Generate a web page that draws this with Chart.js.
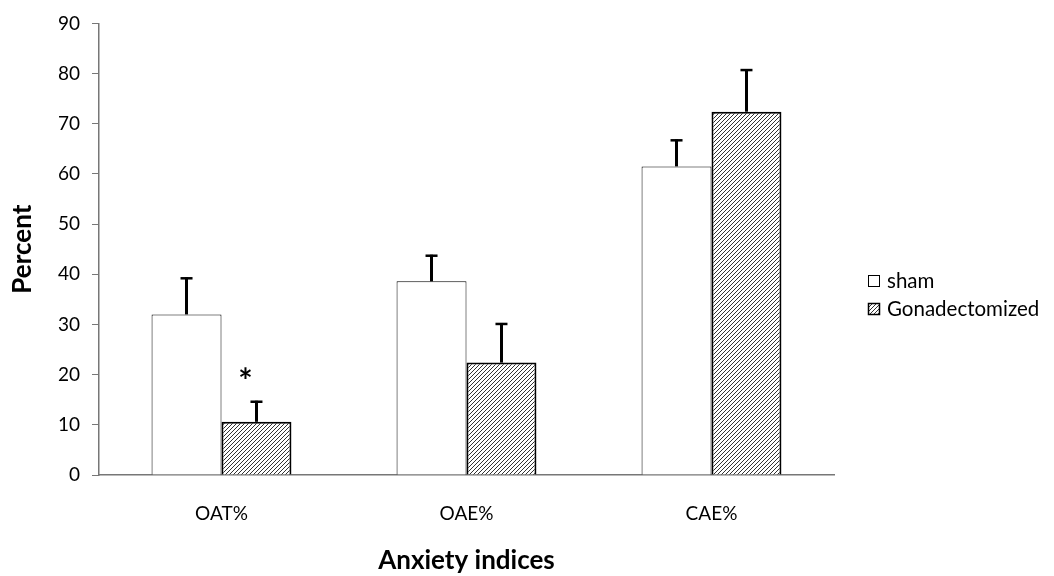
<!DOCTYPE html>
<html>
<head>
<meta charset="utf-8">
<script src="https://cdn.jsdelivr.net/npm/chart.js@4.4.1/dist/chart.umd.min.js"></script>
<style>
  html, body { margin: 0; background: #fff; }
  #wrap { width: 1054px; height: 576px; }
</style>
</head>
<body>
<div id="wrap"><canvas id="chart"></canvas></div>
<script>
const categories  = ['OAT%', 'OAE%', 'CAE%'];
const seriesNames = ['sham', 'Gonadectomized'];
const shamMeans   = [32.0, 38.6, 61.5];
const shamErrors  = [7.4, 5.3, 5.4];
const gonadMeans  = [10.6, 22.4, 72.4];
const gonadErrors = [4.2, 7.9, 8.5];
const gonadStars  = [true, false, false];
const yTicks      = [0, 10, 20, 30, 40, 50, 60, 70, 80, 90];

const FONT = 'Lato';

// diagonal hatch for the gonadectomized bars
function hatch() {
    const s = 4;
    const c = document.createElement('canvas');
    c.width = s; c.height = s;
    const g = c.getContext('2d');
    g.fillStyle = '#fff';
    g.fillRect(0, 0, s, s);
    g.strokeStyle = '#333';
    g.lineWidth = 1;
    g.beginPath();
    g.moveTo(0, s); g.lineTo(s, 0);
    g.moveTo(-1, 1); g.lineTo(1, -1);
    g.moveTo(s - 1, s + 1); g.lineTo(s + 1, s - 1);
    g.stroke();
    return g.createPattern(c, 'repeat');
}
const hatchPattern = hatch();

const errorBars = {
    id: 'errorBars',
    afterDatasetsDraw(chart) {
        const ctx = chart.ctx;
        const y = chart.scales.y;
        ctx.save();
        ctx.strokeStyle = '#000';
        chart.data.datasets.forEach((ds, di) => {
            const meta = chart.getDatasetMeta(di);
            meta.data.forEach((bar, i) => {
                const top = y.getPixelForValue(ds.data[i] + ds.errors[i]);
                ctx.lineWidth = 3;
                ctx.beginPath();
                ctx.moveTo(bar.x, bar.y);
                ctx.lineTo(bar.x, top);
                ctx.stroke();
                ctx.lineWidth = 2.5;
                ctx.beginPath();
                ctx.moveTo(bar.x - 6, top + 1);
                ctx.lineTo(bar.x + 6, top + 1);
                ctx.stroke();
                if (ds.stars && ds.stars[i]) {
                    ctx.fillStyle = '#000';
                    ctx.font = 'bold 34px ' + FONT;
                    ctx.textAlign = 'center';
                    ctx.textBaseline = 'alphabetic';
                    ctx.fillText('*', bar.x - 11, top - 8);
                }
            });
        });
        ctx.restore();
    }
};

const sideLegend = {
    id: 'sideLegend',
    afterDraw(chart) {
        const ctx = chart.ctx;
        const rows = [
            { fill: '#fff', border: 1, y: 281 },
            { fill: hatchPattern, border: 1.5, y: 309 }
        ];
        ctx.save();
        ctx.font = '20.5px ' + FONT;
        ctx.textBaseline = 'middle';
        rows.forEach((r, i) => {
            ctx.fillStyle = r.fill;
            ctx.fillRect(868, r.y - 6, 12, 12);
            ctx.strokeStyle = '#000';
            ctx.lineWidth = r.border;
            ctx.strokeRect(868.5, r.y - 5.5, 11, 11);
            ctx.fillStyle = '#000';
            ctx.fillText(seriesNames[i], 887, r.y);
        });
        ctx.restore();
    }
};

new Chart(document.getElementById('chart'), {
    type: 'bar',
    data: {
        labels: categories,
        datasets: [
            {
                label: seriesNames[0],
                data: shamMeans,
                errors: shamErrors,
                backgroundColor: '#fff',
                borderColor: '#000',
                borderWidth: 1,
            },
            {
                label: seriesNames[1],
                data: gonadMeans,
                errors: gonadErrors,
                stars: gonadStars,
                backgroundColor: hatchPattern,
                borderColor: '#000',
                borderWidth: 2,
            }
        ]
    },
    plugins: [errorBars, sideLegend],
    options: {
        responsive: true,
        maintainAspectRatio: false,
        animation: false,
        layout: { padding: { top: 20, right: 220, left: 0, bottom: 0 } },
        datasets: { bar: { categoryPercentage: 0.571, barPercentage: 1.0 } },
        plugins: {
            legend: { display: false },
            tooltip: { enabled: false },
        },
        scales: {
            x: {
                afterFit: s => { s.height = 101; },
                grid: { display: false, drawTicks: false },
                border: { color: '#777', width: 1.5 },
                ticks: { color: '#000', padding: 27, font: { family: FONT, size: 19 } },
                title: {
                    display: true,
                    text: 'Anxiety indices',
                    color: '#000',
                    padding: { top: 0, bottom: 0 },
                    font: { family: FONT, size: 26, weight: 'bold' },
                },
            },
            y: {
                min: 0,
                max: 90,
                afterFit: s => { s.width = 99; },
                afterBuildTicks: s => { s.ticks = yTicks.map(v => ({ value: v })); },
                grid: { drawOnChartArea: false, drawTicks: true, tickLength: 7, tickColor: '#777' },
                border: { color: '#777', width: 1.5 },
                ticks: { color: '#000', padding: 12, font: { family: FONT, size: 19 } },
                title: {
                    display: true,
                    text: 'Percent',
                    color: '#000',
                    padding: { top: 7, bottom: 0 },
                    font: { family: FONT, size: 26, weight: 'bold' },
                },
            }
        }
    }
});
</script>
</body>
</html>
